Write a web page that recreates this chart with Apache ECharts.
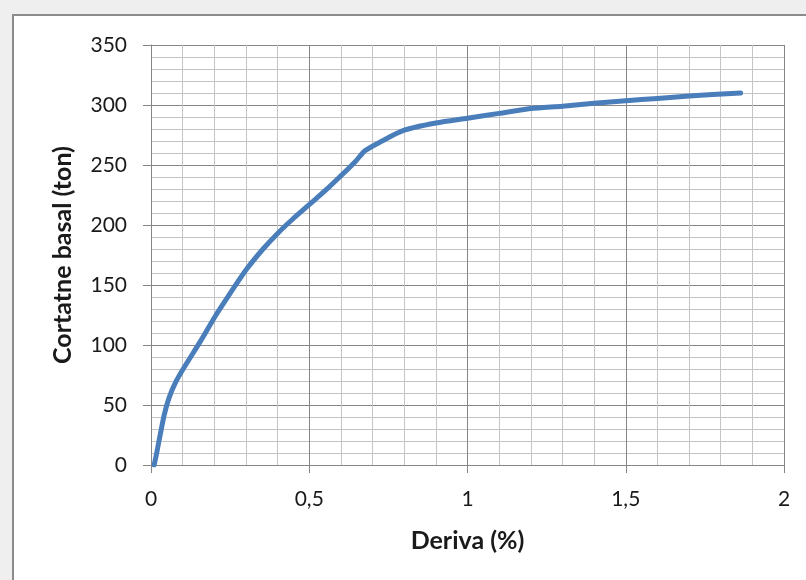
<!DOCTYPE html>
<html>
<head>
<meta charset="utf-8">
<script src="https://cdn.jsdelivr.net/npm/echarts@6/dist/echarts.min.js"></script>
<style>
  html, body { margin: 0; padding: 0; background: #efefef; }
  #chart { width: 806px; height: 580px; }
</style>
</head>
<body>
<div id="chart"></div>
<script>
// Drift (%) vs. base shear (ton) capacity curve
const deriva = [0.01, 0.018, 0.026, 0.042, 0.057, 0.078, 0.104, 0.156, 0.203, 0.25, 0.30, 0.354, 0.40, 0.448, 0.50, 0.552, 0.60, 0.646, 0.677, 0.73, 0.8, 0.9, 1.0, 1.1, 1.2, 1.3, 1.4, 1.5, 1.6, 1.7, 1.863];
const cortante = [0, 10, 21, 42, 56, 69, 81, 103, 124, 143, 162.5, 180, 193, 205, 217, 229, 241, 253, 262, 270, 279, 285, 289, 293, 297, 299, 301.5, 303.5, 305.5, 307.5, 310];

const xTitle = 'Deriva (%)';
const yTitle = 'Cortatne basal (ton)';

const points = deriva.map((d, i) => [d, cortante[i]]);

const fontFamily = 'Lato, "Open Sans", sans-serif';
const majorColor = '#868686';
const minorColor = '#c4c4c4';

const chart = echarts.init(document.getElementById('chart'), null, { renderer: 'canvas' });
chart.setOption({
  backgroundColor: '#efefef',
  animation: false,
  graphic: [{
    type: 'rect',
    z: -10,
    silent: true,
    shape: { x: 13, y: 15, width: 900, height: 700 },
    style: { fill: '#ffffff', stroke: '#8c8c8c', lineWidth: 2 }
  }],
  grid: { left: 151, top: 45, width: 633, height: 420, containLabel: false },
  xAxis: {
    type: 'value',
    min: 0, max: 2, interval: 0.5,
    name: xTitle,
    nameLocation: 'middle',
    nameGap: 63,
    nameTextStyle: { fontFamily, fontSize: 25, fontWeight: 'bold', color: '#1a1a1a' },
    axisLine: { show: true, lineStyle: { color: majorColor, width: 1 } },
    axisTick: { show: true, length: 8, lineStyle: { color: majorColor } },
    axisLabel: {
      fontFamily, fontSize: 21, color: '#1a1a1a', margin: 24,
      formatter: v => String(v).replace('.', ',')
    },
    splitLine: { show: true, lineStyle: { color: majorColor, width: 1 } },
    minorTick: { show: false, splitNumber: 5 },
    minorSplitLine: { show: true, lineStyle: { color: minorColor, width: 1 } }
  },
  yAxis: {
    type: 'value',
    min: 0, max: 350, interval: 50,
    name: yTitle,
    nameLocation: 'middle',
    nameGap: 76,
    nameRotate: 90,
    nameTextStyle: { fontFamily, fontSize: 25, fontWeight: 'bold', color: '#1a1a1a' },
    axisLine: { show: true, lineStyle: { color: majorColor, width: 1 } },
    axisTick: { show: true, length: 8, lineStyle: { color: majorColor } },
    axisLabel: { fontFamily, fontSize: 21, color: '#1a1a1a', margin: 24 },
    splitLine: { show: true, lineStyle: { color: majorColor, width: 1 } },
    minorTick: { show: false, splitNumber: 5 },
    minorSplitLine: { show: true, lineStyle: { color: minorColor, width: 1 } }
  },
  series: [{
    type: 'line',
    data: points,
    smooth: 0.25,
    showSymbol: false,
    lineStyle: { color: '#4a7ebb', width: 5, cap: 'round', join: 'round' }
  }]
});
</script>
</body>
</html>
